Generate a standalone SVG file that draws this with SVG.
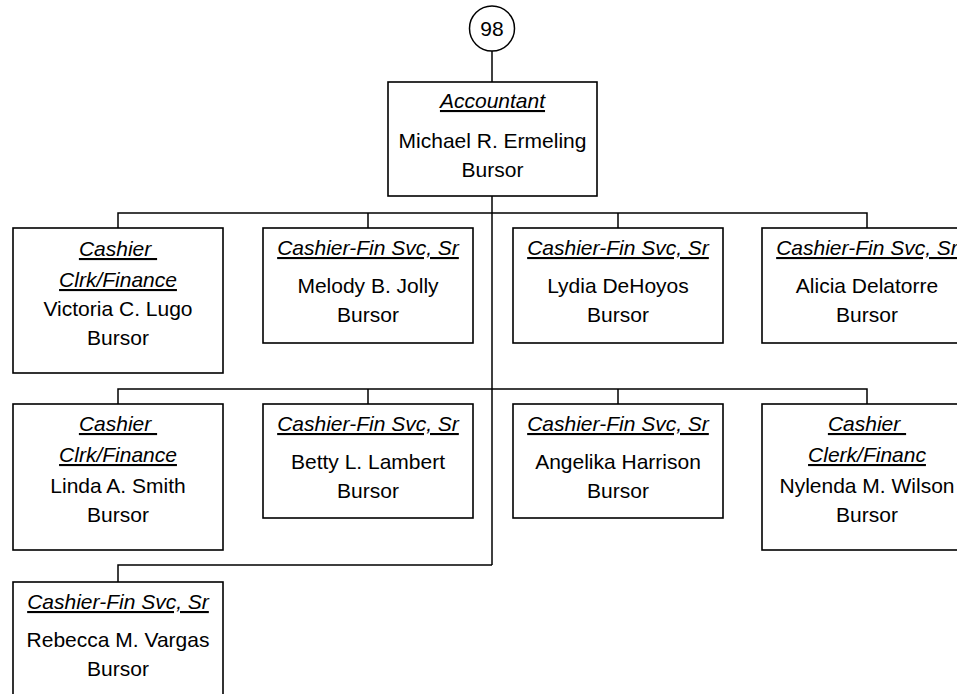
<svg xmlns="http://www.w3.org/2000/svg" width="957" height="694" viewBox="0 0 957 694">
<style>
.box{fill:#fff;stroke:#000;stroke-width:1.6}
.ln{fill:none;stroke:#000;stroke-width:1.5}
text{font-family:"Liberation Sans",Arial,sans-serif;font-size:21px;fill:#000;text-anchor:middle}
.t{font-style:italic;text-decoration:underline}
</style>
<rect width="957" height="694" fill="#fff"/>
<g id="connectors">
<path class="ln" d="M492,51 V82"/>
<path class="ln" d="M492,196 V565"/>
<path class="ln" d="M118,228 V213 H867 V228"/>
<path class="ln" d="M368,213 V228 M618,213 V228"/>
<path class="ln" d="M118,404 V389 H867 V404"/>
<path class="ln" d="M368,389 V404 M618,389 V404"/>
<path class="ln" d="M492,565 H118 V582"/>
</g>
<g id="n98">
<circle cx="492" cy="28.5" r="22.5" fill="#fff" stroke="#000" stroke-width="1.5"/>
<text x="492" y="36">98</text>
</g>
<g id="accountant">
<rect class="box" x="388" y="82" width="209" height="114"/>
<text class="t" x="492.5" y="108">Accountant</text>
<text x="492.5" y="148">Michael R. Ermeling</text>
<text x="492.5" y="177">Bursor</text>
</g>
<g id="lugo">
<rect class="box" x="13" y="228" width="210" height="145"/>
<text class="t" x="118" y="256">Cashier&#160;</text>
<text class="t" x="118" y="287">Clrk/Finance</text>
<text x="118" y="316">Victoria C. Lugo</text>
<text x="118" y="345">Bursor</text>
</g>
<g id="jolly">
<rect class="box" x="263" y="228" width="210" height="115"/>
<text class="t" x="368" y="255">Cashier-Fin Svc, Sr</text>
<text x="368" y="293">Melody B. Jolly</text>
<text x="368" y="322">Bursor</text>
</g>
<g id="dehoyos">
<rect class="box" x="513" y="228" width="210" height="115"/>
<text class="t" x="618" y="255">Cashier-Fin Svc, Sr</text>
<text x="618" y="293">Lydia DeHoyos</text>
<text x="618" y="322">Bursor</text>
</g>
<g id="delatorre">
<rect class="box" x="762" y="228" width="210" height="115"/>
<text class="t" x="867" y="255">Cashier-Fin Svc, Sr</text>
<text x="867" y="293">Alicia Delatorre</text>
<text x="867" y="322">Bursor</text>
</g>
<g id="smith">
<rect class="box" x="13" y="404" width="210" height="146"/>
<text class="t" x="118" y="431">Cashier&#160;</text>
<text class="t" x="118" y="462">Clrk/Finance</text>
<text x="118" y="493">Linda A. Smith</text>
<text x="118" y="522">Bursor</text>
</g>
<g id="lambert">
<rect class="box" x="263" y="404" width="210" height="114"/>
<text class="t" x="368" y="431">Cashier-Fin Svc, Sr</text>
<text x="368" y="469">Betty L. Lambert</text>
<text x="368" y="498">Bursor</text>
</g>
<g id="harrison">
<rect class="box" x="513" y="404" width="210" height="114"/>
<text class="t" x="618" y="431">Cashier-Fin Svc, Sr</text>
<text x="618" y="469">Angelika Harrison</text>
<text x="618" y="498">Bursor</text>
</g>
<g id="wilson">
<rect class="box" x="762" y="404" width="210" height="146"/>
<text class="t" x="867" y="431">Cashier&#160;</text>
<text class="t" x="867" y="462">Clerk/Financ</text>
<text x="867" y="493">Nylenda M. Wilson</text>
<text x="867" y="522">Bursor</text>
</g>
<g id="vargas">
<rect class="box" x="13" y="582" width="210" height="120"/>
<text class="t" x="118" y="609">Cashier-Fin Svc, Sr</text>
<text x="118" y="647">Rebecca M. Vargas</text>
<text x="118" y="676">Bursor</text>
</g>
</svg>
